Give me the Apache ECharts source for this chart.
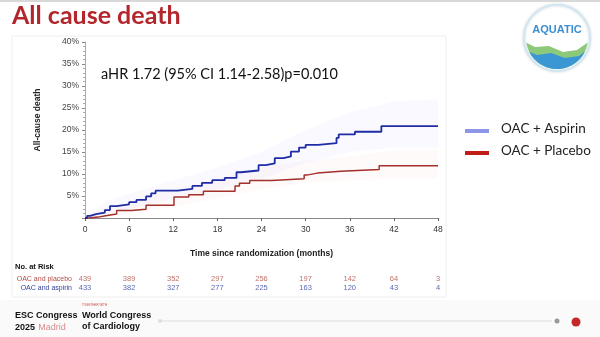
<!DOCTYPE html>
<html><head><meta charset="utf-8">
<script src="https://cdn.jsdelivr.net/npm/echarts@6/dist/echarts.min.js"></script>
<style>html,body{margin:0;padding:0;background:#fff}#c{width:600px;height:337px}</style>
</head><body><div id="c"></div>
<script>
const xTicks = [0, 6, 12, 18, 24, 30, 36, 42, 48];
const riskRows = ['OAC and aspirin', 'OAC and placebo'];
const riskPlacebo = [439, 389, 352, 297, 256, 197, 142, 64, 3];
const riskAspirin = [433, 382, 327, 277, 225, 163, 120, 43, 4];
const aspirinKM = [[0,0],[0.3,0.5],[0.7,0.9],[1.5,1.2],[2.7,1.8],[3.4,2.7],[4.3,3.1],[6,3.6],[7,4.1],[8.3,4.9],[9,5.6],[9.6,6.2],[12.6,6.6],[14.6,7.3],[15.9,8.0],[17.3,8.6],[19,9.1],[20.6,10.4],[21.2,10.8],[23.6,12.0],[24.6,12.4],[25.8,13.6],[27,14.0],[28,15.1],[29.1,16.0],[30,16.6],[31.7,17.0],[34.2,18.2],[34.5,19.0],[36.7,19.6],[40.3,20.9],[48,20.9]];
const placeboKM = [[0,0],[0.5,0.2],[1.8,0.5],[2.8,0.9],[4.3,1.7],[6.3,2.0],[8.3,2.9],[12.1,4.8],[14.1,5.3],[16.1,6.1],[20.4,7.3],[21,7.9],[22.4,8.5],[25.4,8.9],[29.8,9.8],[30.3,10.2],[31.6,10.6],[34.8,11.0],[40,11.9],[48,11.9]];
const bandTimes = [0, 3, 6, 12, 18, 24, 30, 36, 42, 48];
const aspirinLo = [0, 1, 2, 4.5, 6.5, 9, 12.5, 15, 16, 16];
const aspirinHi = [0, 4, 5.5, 8.5, 11.5, 15, 20, 24, 26.5, 27];
const placeboLo = [0, 0.3, 1, 2.5, 4.5, 6.5, 8, 8.5, 9, 9];
const placeboHi = [0, 2.5, 3.5, 6.5, 9, 11.5, 13, 14, 15.5, 15.5];

const chart = echarts.init(document.getElementById('c'));

function bandSeries(lo, hi, color) {
  return {
    type: 'custom', silent: true, z: 1,
    data: bandTimes.map((t, i) => [t, hi[i], lo[i]]),
    encode: { x: 0, y: [1, 2] },
    renderItem: function (params, api) {
      if (params.dataIndex !== 0) return null;
      const pts = [];
      for (let i = 0; i < bandTimes.length; i++) pts.push(api.coord([bandTimes[i], hi[i]]));
      for (let i = bandTimes.length - 1; i >= 0; i--) pts.push(api.coord([bandTimes[i], lo[i]]));
      return { type: 'polygon', shape: { points: pts }, style: { fill: color } };
    }
  };
}

// logo wave polygons
const lcx = 557, lcy = 38, lr = 31;
function arcPts(a0, a1, n) { const p = []; for (let i = 0; i <= n; i++) { const a = a0 + (a1 - a0) * i / n; p.push([lcx + lr * Math.cos(a), lcy + lr * Math.sin(a)]); } return p; }
const wave1 = arcPts(Math.PI * 0.05, Math.PI * 0.95, 30).concat([[lcx - 22, lcy + 9], [lcx - 8, lcy + 8], [lcx + 6, lcy + 14], [lcx + 20, lcy + 12], [lcx + 30, lcy + 5]]);
const wave2 = arcPts(Math.PI * 0.15, Math.PI * 0.85, 30).concat([[lcx - 20, lcy + 17], [lcx - 6, lcy + 15], [lcx + 8, lcy + 20], [lcx + 22, lcy + 18], [lcx + 27, lcy + 14]]);

chart.setOption({
  animation: false,
  backgroundColor: '#fff',
  grid: [
    { left: 85, right: 162, top: 42, bottom: 119 },
    { left: 85, right: 162, top: 274.5, height: 18 }
  ],
  xAxis: [
    { type: 'value', min: 0, max: 48, interval: 6, gridIndex: 0,
      name: 'Time since randomization (months)', nameLocation: 'middle', nameGap: 31,
      nameTextStyle: { fontFamily: 'Liberation Sans', fontWeight: 'bold', fontSize: 8.5, color: '#222' },
      axisLine: { lineStyle: { color: '#888', width: 1 } },
      axisTick: { show: true, length: 3, lineStyle: { color: '#666' } },
      axisLabel: { fontFamily: 'Liberation Sans', fontSize: 8.5, color: '#333', margin: 7 },
      splitLine: { show: false } },
    { type: 'value', min: 0, max: 48, gridIndex: 1, show: false }
  ],
  yAxis: [
    { type: 'value', min: 0, max: 40, interval: 5, gridIndex: 0,
      axisLine: { show: true, lineStyle: { color: '#aaa', width: 1 } },
      axisTick: { show: true, length: 3, lineStyle: { color: '#888' } },
      minorTick: { show: true, splitNumber: 5, length: 2, lineStyle: { color: '#aaa' } },
      axisLabel: { fontFamily: 'Liberation Sans', fontSize: 8.5, color: '#444', margin: 6,
        formatter: v => v === 0 ? '' : v + '%' },
      splitLine: { show: false } },
    { type: 'category', data: riskRows, gridIndex: 1,
      axisLine: { show: false }, axisTick: { show: false },
      axisLabel: { interval: 0, margin: 13, fontFamily: 'Liberation Sans', fontSize: 7,
        formatter: v => v === 'OAC and placebo' ? '{p|' + v + '}' : '{a|' + v + '}',
        rich: { p: { color: '#b04c44', fontSize: 7, fontFamily: 'Liberation Sans' }, a: { color: '#2f3fa0', fontSize: 7, fontFamily: 'Liberation Sans' } } } }
  ],
  series: [
    bandSeries(aspirinLo, aspirinHi, 'rgba(120,120,245,0.045)'),
    bandSeries(placeboLo, placeboHi, 'rgba(240,120,120,0.04)'),
    { name: 'OAC + Placebo', type: 'line', step: 'end', data: placeboKM, symbol: 'none', z: 3,
      lineStyle: { color: '#a3302a', width: 1.5 } },
    { name: 'OAC + Aspirin', type: 'line', step: 'end', data: aspirinKM, symbol: 'none', z: 3,
      lineStyle: { color: '#1f2ca6', width: 1.8 } },
    { type: 'scatter', xAxisIndex: 1, yAxisIndex: 1, symbolSize: 1, itemStyle: { color: 'rgba(0,0,0,0)' },
      data: xTicks.map((t, i) => [t, 'OAC and placebo', riskPlacebo[i]]),
      label: { show: true, position: 'inside', formatter: p => p.value[2], color: '#b04c44', fontSize: 7.5, fontFamily: 'Liberation Sans' } },
    { type: 'scatter', xAxisIndex: 1, yAxisIndex: 1, symbolSize: 1, itemStyle: { color: 'rgba(0,0,0,0)' },
      data: xTicks.map((t, i) => [t, 'OAC and aspirin', riskAspirin[i]]),
      label: { show: true, position: 'inside', formatter: p => p.value[2], color: '#2f3fa0', fontSize: 7.5, fontFamily: 'Liberation Sans' } }
  ],
  graphic: [
    { type: 'rect', shape: { x: 0, y: 0, width: 600, height: 2 }, style: { fill: '#d8d8d8' }, z: 0 },
    { type: 'rect', shape: { x: 12, y: 36, width: 434, height: 261 }, style: { fill: 'none', stroke: '#eeeeee', lineWidth: 1 }, z: 0 },
    { type: 'text', left: 12, top: 3, style: { text: 'All cause death', fill: '#b3262c', font: 'bold 25px Lato' } },
    { type: 'text', left: 101, top: 67, style: { text: 'aHR 1.72 (95% CI 1.14-2.58)p=0.010', fill: '#111', font: '14.5px Lato' } },
    { type: 'text', x: 38, y: 120, rotation: Math.PI / 2, style: { text: 'All-cause death', fill: '#222', font: 'bold 8.5px "Liberation Sans"', align: 'center', verticalAlign: 'middle' } },
    { type: 'text', left: 15, top: 263, style: { text: 'No. at Risk', fill: '#111', font: 'bold 7.5px "Liberation Sans"' } },
    // legend
    { type: 'rect', shape: { x: 465, y: 129, width: 24, height: 4 }, style: { fill: '#8d96e6' } },
    { type: 'text', left: 501, top: 122, style: { text: 'OAC + Aspirin', fill: '#222', font: '13.5px Lato' } },
    { type: 'rect', shape: { x: 465, y: 151, width: 24, height: 4 }, style: { fill: '#c01d18' } },
    { type: 'text', left: 501, top: 144, style: { text: 'OAC + Placebo', fill: '#222', font: '13.5px Lato' } },
    // logo
    { type: 'circle', shape: { cx: lcx, cy: lcy, r: lr + 2 }, style: { fill: '#fff', stroke: '#cfe8f4', lineWidth: 2, shadowBlur: 3, shadowColor: 'rgba(0,0,0,0.15)' } },
    { type: 'polygon', shape: { points: wave1 }, style: { fill: '#8cc97a' } },
    { type: 'polygon', shape: { points: wave2 }, style: { fill: '#3b96d4' } },
    { type: 'text', x: lcx, y: lcy - 8, style: { text: 'AQUATIC', fill: '#3b8fd2', stroke: '#fff', lineWidth: 2, font: 'bold 11px "Liberation Sans"', align: 'center', verticalAlign: 'middle' } },
    // footer
    { type: 'rect', shape: { x: 0, y: 300, width: 600, height: 37 }, style: { fill: '#fafafa' }, z: -1 },
    { type: 'line', shape: { x1: 160, y1: 321, x2: 552, y2: 321 }, style: { stroke: '#dddddd', lineWidth: 1 } },
    { type: 'circle', shape: { cx: 160, cy: 321, r: 2 }, style: { fill: '#dddddd' } },
    { type: 'circle', shape: { cx: 557, cy: 321, r: 2.5 }, style: { fill: '#999' } },
    { type: 'circle', shape: { cx: 576, cy: 322, r: 4.5 }, style: { fill: '#c62828' } },
    { type: 'text', left: 15, top: 311, style: { text: 'ESC Congress', fill: '#111', font: 'bold 9px "Liberation Sans"' } },
    { type: 'text', left: 15, top: 322, style: { rich: { a: { fill: '#111', font: 'bold 9px "Liberation Sans"' }, b: { fill: '#d98a8e', font: '9px "Liberation Sans"' } }, text: '{a|2025} {b|Madrid}' } },
    { type: 'text', left: 82, top: 304, style: { text: 'TOGETHER WITH', fill: '#c44', font: '3px "Liberation Sans"' } },
    { type: 'text', left: 82, top: 311, style: { text: 'World Congress', fill: '#111', font: 'bold 9px "Liberation Sans"' } },
    { type: 'text', left: 82, top: 322, style: { text: 'of Cardiology', fill: '#111', font: 'bold 9px "Liberation Sans"' } }
  ]
});
</script></body></html>
